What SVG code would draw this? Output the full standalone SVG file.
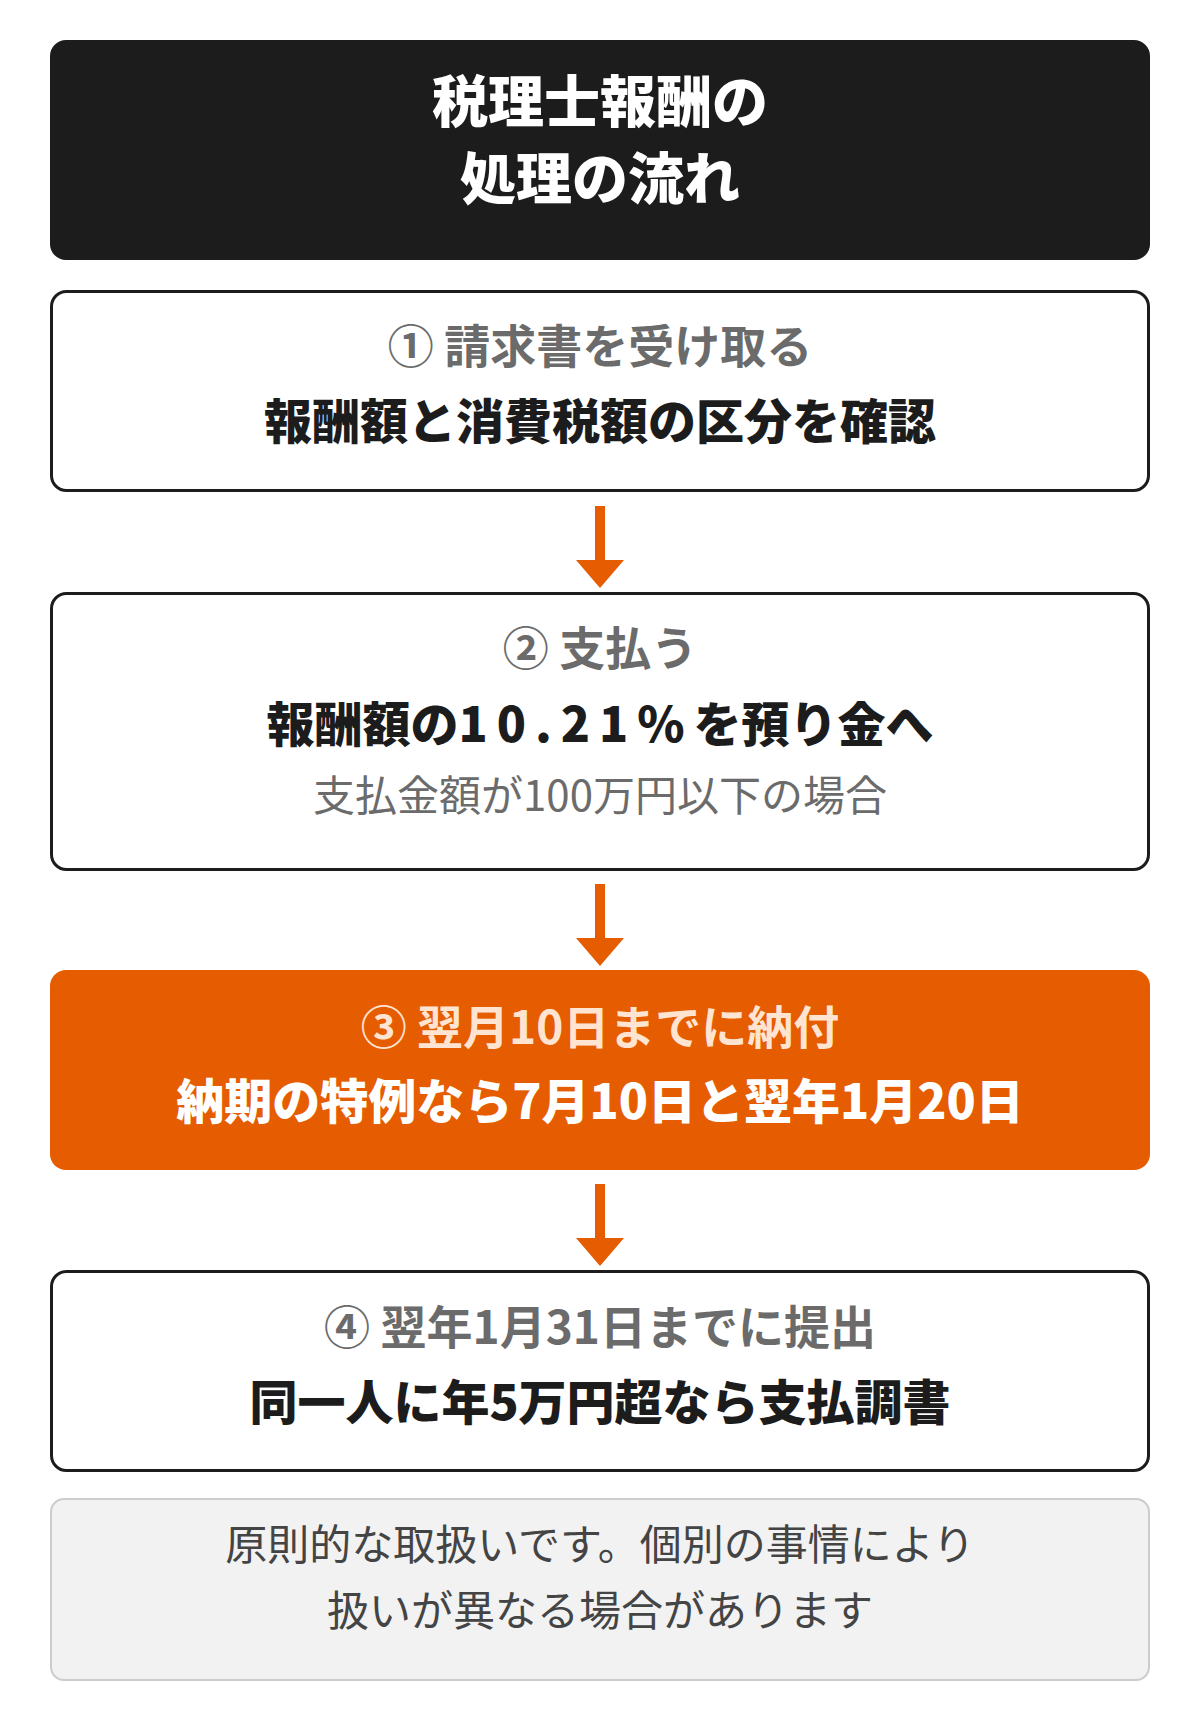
<svg xmlns="http://www.w3.org/2000/svg" width="1200" height="1720" viewBox="0 0 1200 1720">
  <style>
    text { font-family: "Noto Sans CJK JP", "Noto Sans", sans-serif; text-anchor: middle; }
    .title { font-size: 56px; font-weight: 900; fill: #ffffff; }
    .step { font-size: 46px; font-weight: 700; fill: #6b6b6b; }
    .main { font-size: 48px; font-weight: 900; fill: #1c1c1c; }
    .sub { font-size: 42px; font-weight: 400; fill: #6b6b6b; }
    .card { fill: #ffffff; stroke: #1c1c1c; stroke-width: 3; }
    .note { font-size: 42px; font-weight: 400; fill: #444444; }
    .arrow { fill: #e65c00; }
  </style>
  <rect width="1200" height="1720" fill="#ffffff"/>

  <g id="header">
    <rect x="50" y="40" width="1100" height="220" rx="16" fill="#1c1c1c"/>
    <text class="title" x="600" y="122">税理士報酬の</text>
    <text class="title" x="600" y="199">処理の流れ</text>
  </g>

  <g id="step1">
    <rect class="card" x="51.5" y="291.5" width="1097" height="199" rx="15"/>
    <text class="step" x="600" y="363">① 請求書を受け取る</text>
    <text class="main" x="600" y="439">報酬額と消費税額の区分を確認</text>
  </g>

  <g id="step2">
    <rect class="card" x="51.5" y="593.5" width="1097" height="276" rx="15"/>
    <text class="step" x="600" y="665">② 支払う</text>
    <text class="main" x="600" y="742">報酬額の<tspan letter-spacing="9">10.21%</tspan>を預り金へ</text>
    <text class="sub" x="600" y="811">支払金額が100万円以下の場合</text>
  </g>

  <g id="step3">
    <rect x="50" y="970" width="1100" height="200" rx="16" fill="#e65c00"/>
    <text class="step" x="600" y="1044" style="fill:#ffe4d2">③ 翌月10日までに納付</text>
    <text class="main" x="600" y="1119" style="fill:#ffffff">納期の特例なら7月10日と翌年1月20日</text>
  </g>

  <g id="step4">
    <rect class="card" x="51.5" y="1271.5" width="1097" height="199" rx="15"/>
    <text class="step" x="600" y="1344">④ 翌年1月31日までに提出</text>
    <text class="main" x="600" y="1420">同一人に年5万円超なら支払調書</text>
  </g>

  <g id="note">
    <rect x="51" y="1499" width="1098" height="181" rx="13" fill="#f2f2f2" stroke="#cccccc" stroke-width="2"/>
    <text class="note" x="600" y="1560">原則的な取扱いです。個別の事情により</text>
    <text class="note" x="600" y="1626">扱いが異なる場合があります</text>
  </g>

  <g id="connectors">
    <path class="arrow" d="M595 506 H605 V560 H624 L600 588 L576 560 H595 Z"/>
    <path class="arrow" d="M595 884 H605 V938 H624 L600 966 L576 938 H595 Z"/>
    <path class="arrow" d="M595 1184 H605 V1238 H624 L600 1266 L576 1238 H595 Z"/>
  </g>
</svg>
